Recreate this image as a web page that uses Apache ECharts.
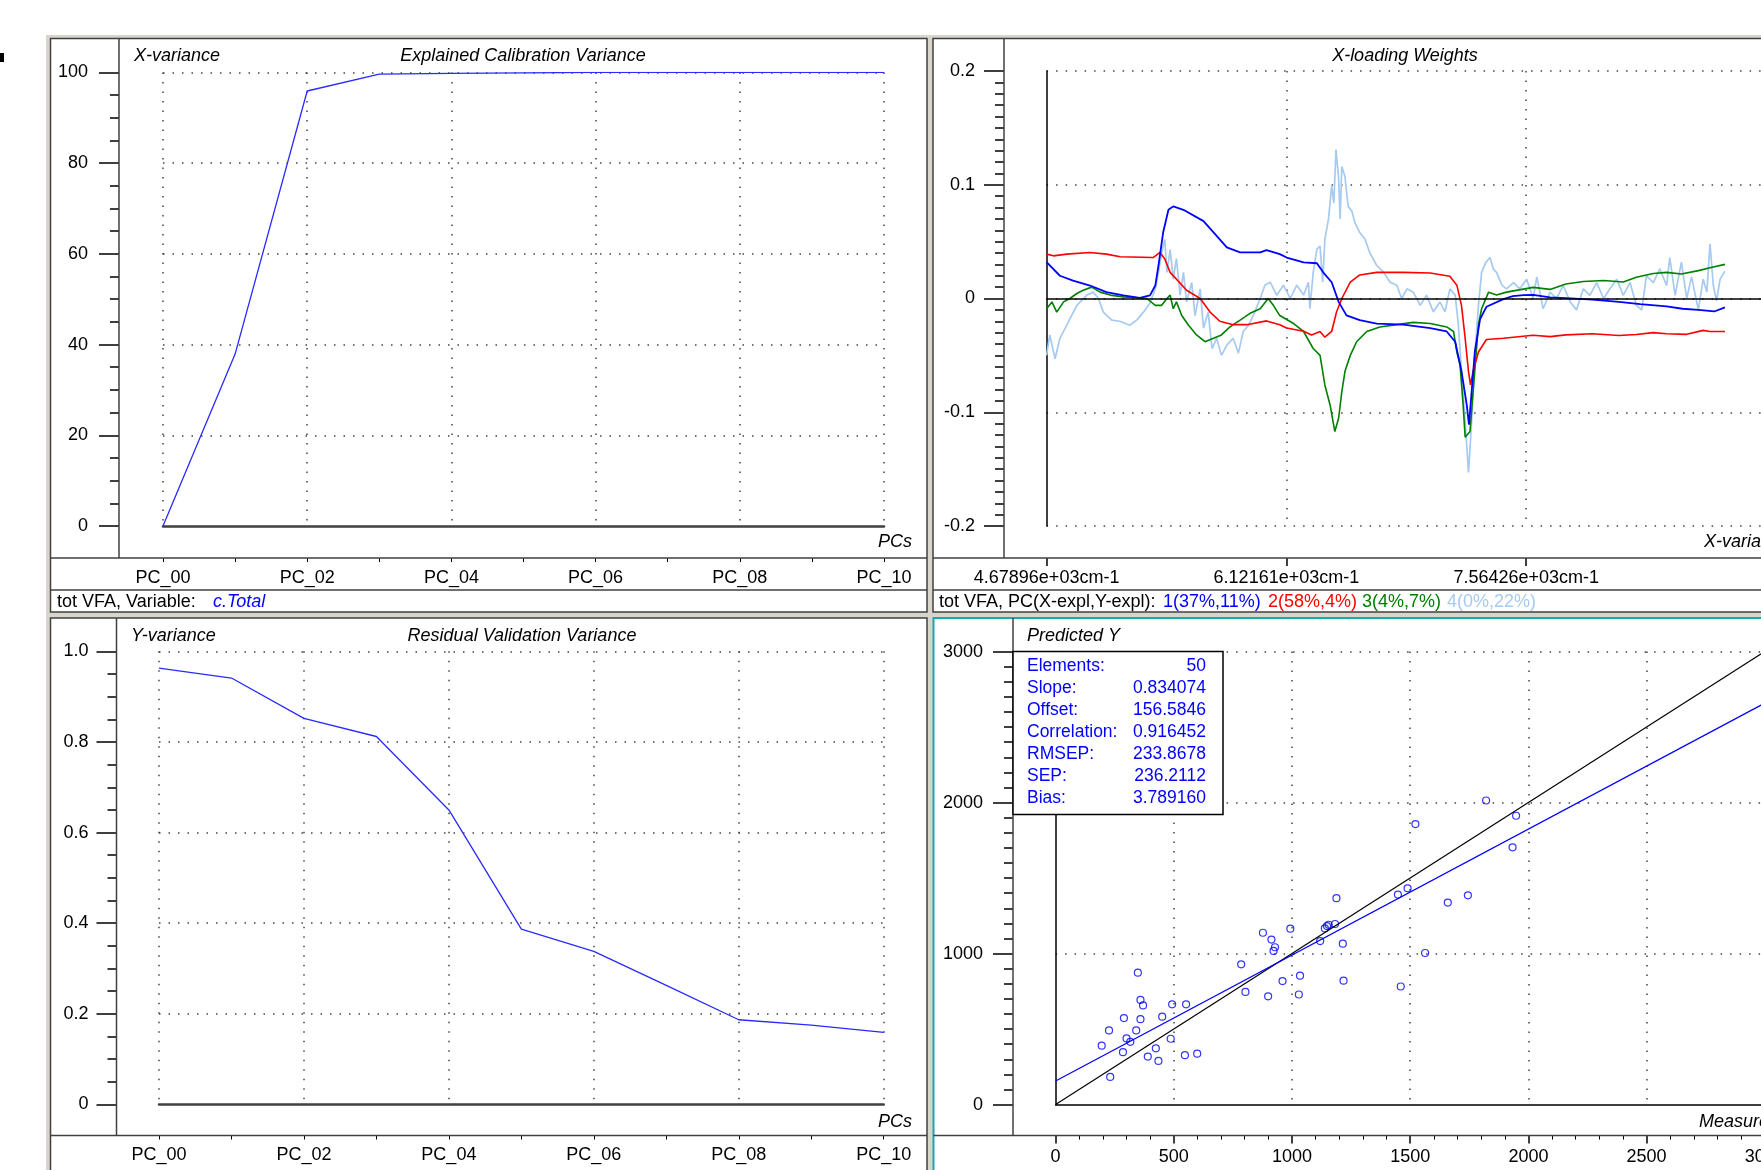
<!DOCTYPE html>
<html>
<head>
<meta charset="utf-8">
<script src="https://cdn.jsdelivr.net/npm/echarts@6/dist/echarts.min.js"></script>
<style>
  html, body { margin: 0; padding: 0; background: #ffffff; overflow: hidden; }
  #chart { width: 1900px; height: 1170px; }
</style>
</head>
<body>
<div id="chart"></div>
<script>
// explained calibration variance (X), PC_00..PC_10
const pcs = [0, 1, 2, 3, 4, 5, 6, 7, 8, 9, 10]
const xVariance = [0, 37.9, 95.9, 99.6, 99.8, 99.9, 100, 100, 100, 100, 100]
// residual validation variance (Y)
const yResidual = [0.963, 0.941, 0.852, 0.812, 0.650, 0.387, 0.338, 0.263, 0.187, 0.175, 0.159]

// X-loading weights, wavenumber (cm-1) / weight
const pc1Wn = [4679, 4759, 4838, 4940, 5039, 5141, 5240, 5301, 5333, 5352, 5380, 5412, 5441, 5502, 5623, 5702, 5763, 5843, 5964, 6002, 6082, 6123, 6225, 6305, 6343, 6394, 6436, 6483, 6563, 6665, 6825, 6987, 7086, 7137, 7175, 7207, 7220, 7236, 7255, 7287, 7325, 7427, 7484, 7548, 7606, 7708, 7803, 7963, 8122, 8250, 8409, 8505, 8600, 8696, 8760]
const pc1Val = [0.032, 0.020, 0.0157, 0.0114, 0.0056, 0.0027, 0.0006, 0.0027, 0.0114, 0.029, 0.058, 0.078, 0.081, 0.078, 0.068, 0.055, 0.045, 0.0405, 0.0405, 0.0425, 0.039, 0.036, 0.0317, 0.031, 0.023, 0.0143, -0.003, -0.0148, -0.019, -0.022, -0.023, -0.026, -0.029, -0.038, -0.064, -0.094, -0.111, -0.082, -0.047, -0.018, -0.0073, -0.0006, 0.002, 0.003, 0.0032, 0.001, 0.0003, -0.001, -0.003, -0.005, -0.007, -0.009, -0.010, -0.0114, -0.0078]

const pc2Wn = [4679, 4720, 4800, 4940, 5039, 5122, 5320, 5361, 5390, 5422, 5460, 5521, 5603, 5661, 5721, 5801, 5884, 6002, 6082, 6123, 6225, 6273, 6324, 6353, 6394, 6423, 6455, 6506, 6563, 6665, 6825, 6987, 7105, 7147, 7175, 7197, 7217, 7229, 7245, 7277, 7325, 7427, 7606, 7708, 7803, 7963, 8122, 8227, 8329, 8409, 8530, 8629, 8670, 8760]
const pc2Val = [0.039, 0.0375, 0.039, 0.0405, 0.039, 0.0367, 0.036, 0.0405, 0.0347, 0.023, 0.017, 0.0073, 0, -0.0117, -0.020, -0.023, -0.023, -0.0197, -0.023, -0.026, -0.0288, -0.032, -0.029, -0.034, -0.029, -0.0119, 0, 0.0143, 0.0207, 0.023, 0.023, 0.0224, 0.0195, 0.0117, -0.006, -0.035, -0.064, -0.076, -0.064, -0.047, -0.036, -0.035, -0.0323, -0.0335, -0.032, -0.031, -0.0325, -0.0317, -0.030, -0.031, -0.0315, -0.028, -0.029, -0.029]

const pc3Wn = [4679, 4711, 4740, 4781, 4819, 4861, 4899, 4950, 5001, 5062, 5141, 5221, 5282, 5333, 5371, 5403, 5422, 5441, 5460, 5492, 5533, 5581, 5632, 5683, 5731, 5782, 5843, 5903, 5964, 6012, 6043, 6082, 6165, 6225, 6283, 6324, 6353, 6385, 6413, 6436, 6455, 6474, 6506, 6544, 6605, 6684, 6786, 6885, 6987, 7086, 7127, 7147, 7166, 7185, 7197, 7226, 7245, 7277, 7296, 7338, 7386, 7446, 7606, 7708, 7803, 7908, 8030, 8148, 8227, 8329, 8409, 8498, 8600, 8670, 8760]
const pc3Val = [-0.009, -0.003, -0.012, -0.003, 0, 0.0044, 0.0073, 0.010, 0.0056, 0.003, 0.0014, 0.0006, 0, -0.006, -0.006, 0, 0.003, -0.009, -0.003, -0.015, -0.0235, -0.032, -0.038, -0.035, -0.032, -0.025, -0.019, -0.013, -0.009, 0, -0.006, -0.015, -0.022, -0.029, -0.044, -0.050, -0.076, -0.094, -0.117, -0.105, -0.082, -0.064, -0.050, -0.038, -0.029, -0.025, -0.023, -0.021, -0.022, -0.025, -0.029, -0.047, -0.058, -0.094, -0.122, -0.117, -0.082, -0.023, -0.009, 0.0056, 0.003, 0.0056, 0.0098, 0.008, 0.0128, 0.015, 0.0158, 0.0145, 0.0187, 0.022, 0.023, 0.0215, 0.0245, 0.027, 0.030]

const pc4Wn = [4679, 4698, 4730, 4759, 4791, 4819, 4861, 4921, 4959, 4991, 5020, 5071, 5119, 5179, 5221, 5262, 5301, 5333, 5352, 5371, 5390, 5403, 5422, 5441, 5460, 5482, 5502, 5521, 5552, 5572, 5603, 5623, 5651, 5674, 5702, 5731, 5763, 5801, 5833, 5862, 5894, 5922, 5964, 5992, 6024, 6063, 6104, 6145, 6184, 6225, 6254, 6263, 6283, 6305, 6324, 6340, 6353, 6375, 6394, 6407, 6420, 6436, 6445, 6455, 6474, 6493, 6515, 6534, 6563, 6595, 6624, 6665, 6707, 6745, 6786, 6815, 6847, 6885, 6927, 6965, 7006, 7045, 7076, 7105, 7137, 7156, 7175, 7197, 7217, 7236, 7255, 7277, 7296, 7322, 7347, 7366, 7386, 7418, 7446, 7488, 7526, 7567, 7606, 7628, 7666, 7708, 7746, 7787, 7829, 7867, 7908, 7947, 7988, 8030, 8068, 8109, 8148, 8189, 8227, 8259, 8288, 8329, 8368, 8409, 8428, 8460, 8498, 8530, 8559, 8600, 8629, 8651, 8670, 8690, 8709, 8731, 8760]
const pc4Val = [-0.050, -0.032, -0.053, -0.035, -0.026, -0.018, -0.006, 0.003, 0.0056, 0, -0.012, -0.019, -0.020, -0.0235, -0.019, -0.012, -0.004, 0.0085, 0.023, 0.040, 0.052, 0.023, 0.043, 0.017, 0.035, 0.003, 0.023, -0.003, 0.014, -0.015, 0.0085, -0.026, -0.012, -0.044, -0.035, -0.050, -0.041, -0.035, -0.048, -0.029, -0.0235, -0.015, 0, 0.0117, 0.0143, 0.0029, 0.0117, 0, 0.0117, 0.003, 0.0143, -0.009, 0.023, 0.0435, 0.046, 0.0143, 0.052, 0.070, 0.099, 0.084, 0.131, 0.105, 0.070, 0.116, 0.107, 0.081, 0.077, 0.0667, 0.058, 0.052, 0.040, 0.029, 0.023, 0.0143, 0.0117, 0, 0.0085, 0.0056, -0.006, 0.003, -0.0117, -0.003, -0.0117, 0.0085, 0.003, -0.023, -0.064, -0.108, -0.153, -0.108, -0.050, -0.006, 0.023, 0.032, 0.036, 0.026, 0.023, 0.0117, 0.0085, 0.014, 0.0085, 0.017, 0, 0.019, -0.009, 0.0056, 0, 0.0114, -0.003, -0.010, 0.0085, 0.0027, 0.014, 0, 0.0085, 0.017, 0.0027, 0.014, -0.006, -0.010, 0.020, 0.014, 0.026, 0.0114, 0.036, 0.0027, 0.032, 0, 0.019, -0.010, 0.017, 0.0056, 0.048, 0.0114, -0.002, 0.017, 0.024]

// predicted vs measured
const measuredPredicted = [
  [1821, 2014], [1948, 1913], [1522, 1858], [1933, 1704], [1188, 1367], [1448, 1391], [1489, 1432], [1659, 1338], [1744, 1386], [877, 1138],
  [993, 1165], [913, 1093], [928, 1042], [922, 1018], [1148, 1182], [1155, 1191], [1182, 1196], [1139, 1167], [1119, 1083], [1215, 1066],
  [1563, 1004], [785, 929], [1034, 854], [960, 818], [1218, 821], [1460, 782], [803, 746], [899, 717], [1029, 729], [348, 874],
  [359, 693], [370, 657], [493, 664], [552, 664], [289, 573], [359, 566], [451, 582], [226, 491], [341, 491], [300, 438],
  [316, 416], [195, 390], [487, 436], [285, 347], [424, 373], [390, 318], [435, 289], [547, 327], [599, 337], [231, 183]
]
const regressionLine = [[0, 156.6], [3000, 2658.8]]
const targetLine = [[0, 0], [3000, 3000]]
const statsLabels = ['Elements:', 'Slope:', 'Offset:', 'Correlation:', 'RMSEP:', 'SEP:', 'Bias:']
const statsValues = ['50', '0.834074', '156.5846', '0.916452', '233.8678', '236.2112', '3.789160']

const pcLegend = ['1(37%,11%)', '2(58%,4%)', '3(4%,7%)', '4(0%,22%)']
const pcColors = ['#0000ff', '#ff0000', '#008000', '#a6caf0']

const FONT = '"Liberation Sans", Arial, sans-serif'
const dotted = { show: true, lineStyle: { color: '#444', type: [1.5, 8], width: 1.5 } }
const labelStyle = { color: '#000', fontSize: 18, fontFamily: FONT }
const noLine = { show: false, onZero: false }

function zip(xs, ys) {
  return xs.map((x, i) => [x, ys[i]])
}

function pcLabel(v) {
  return v % 2 === 0 ? 'PC_' + String(v).padStart(2, '0') : ''
}

function txt(x, y, text, opts = {}) {
  return {
    type: 'text', x, y, z: opts.z || 20, silent: true,
    style: {
      text,
      font: (opts.italic ? 'italic ' : '') + (opts.size || 18) + 'px ' + FONT,
      fill: opts.color || '#000',
      textAlign: opts.align || 'left',
      textVerticalAlign: 'middle'
    }
  }
}

function hline(x1, x2, y, color = '#404040') {
  return { type: 'line', z: 1, silent: true, shape: { x1, y1: y, x2, y2: y }, style: { stroke: color, lineWidth: 1.5 } }
}

function vline(x, y1, y2, color = '#404040') {
  return { type: 'line', z: 1, silent: true, shape: { x1: x, y1, x2: x, y2 }, style: { stroke: color, lineWidth: 1.5 } }
}

function panel(x, y, w, h, stroke = '#404040', lw = 1.5) {
  return { type: 'rect', z: -10, silent: true, shape: { x, y, width: w, height: h }, style: { fill: '#fff', stroke, lineWidth: lw } }
}

const graphics = [
  { type: 'rect', z: -20, silent: true, shape: { x: 46, y: 35, width: 1900, height: 1200 }, style: { fill: '#d8d5cd' } },
  { type: 'rect', z: -5, silent: true, shape: { x: 0, y: 53, width: 4, height: 9 }, style: { fill: '#000' } },
  panel(50.5, 38.5, 876.5, 573.5),
  panel(933, 38.5, 960, 573.5),
  panel(50.5, 618, 876.5, 560),
  panel(933.5, 618, 960, 560, '#1aa8b0', 2),
  // separators
  vline(119, 38.5, 558), hline(50.5, 927, 558), hline(50.5, 927, 590),
  vline(1004, 38.5, 558), hline(933, 1893, 558), hline(933, 1893, 590),
  vline(116.5, 618, 1135.5), hline(50.5, 927, 1135.5),
  vline(1013, 618, 1135.5), hline(933.5, 1893, 1135.5),
  // titles
  txt(134, 56, 'X-variance', { italic: true }),
  txt(523, 56, 'Explained Calibration Variance', { italic: true, align: 'center' }),
  txt(912, 542, 'PCs', { italic: true, align: 'right' }),
  txt(1405, 56, 'X-loading Weights', { italic: true, align: 'center' }),
  txt(1704, 542, 'X-variables', { italic: true }),
  txt(131, 636, 'Y-variance', { italic: true }),
  txt(522, 636, 'Residual Validation Variance', { italic: true, align: 'center' }),
  txt(912, 1122, 'PCs', { italic: true, align: 'right' }),
  txt(1027, 636, 'Predicted Y', { italic: true }),
  txt(1699, 1122, 'Measured Y', { italic: true }),
  // footers
  txt(57, 602, 'tot VFA, Variable:'),
  txt(213, 602, 'c.Total', { italic: true, color: '#0000ff' }),
  txt(939, 602, 'tot VFA, PC(X-expl,Y-expl):')
]
const legendX = [1163, 1268, 1362, 1447]
pcLegend.forEach((t, i) => graphics.push(txt(legendX[i], 602, t, { color: pcColors[i] })))

// statistics box (drawn above the axes of the lower-right plot)
const boxX = 1013
const boxY = 651.6
graphics.push({ type: 'rect', z: 100, silent: true, shape: { x: boxX, y: boxY, width: 210, height: 163 },
  style: { fill: '#fff', stroke: '#000', lineWidth: 1.5 } })
statsLabels.forEach((t, i) => {
  graphics.push(txt(boxX + 14, boxY + 15 + i * 21.9, t, { color: '#0000ff', size: 17.5, z: 101 }))
  graphics.push(txt(boxX + 193, boxY + 15 + i * 21.9, statsValues[i], { color: '#0000ff', size: 17.5, z: 101, align: 'right' }))
})

const chart = echarts.init(document.getElementById('chart'))

const yTick = { show: true, length: 20, lineStyle: { color: '#000', width: 1.5 } }
const yMinor = (n) => ({ show: true, splitNumber: n, length: 9, lineStyle: { color: '#000', width: 1.5 } })
const lineOnly = (color, width) => ({ show: true, onZero: false, lineStyle: { color, width } })
const bare = { axisTick: { show: false }, axisLabel: { show: false } }

chart.setOption({
  animation: false,
  grid: [
    { left: 163, top: 72.4, width: 721, height: 453.6 },
    { left: 1046.6, top: 71, width: 719.4, height: 455 },
    { left: 159, top: 651.3, width: 724.7, height: 453.2 },
    { left: 1055.6, top: 651.6, width: 709.2, height: 453 }
  ],
  xAxis: [
    // top-left: tick/label axis on the separator, plus bottom zero line
    { gridIndex: 0, type: 'value', position: 'bottom', min: 0, max: 10, interval: 1, offset: 32, axisLine: noLine,
      axisTick: { length: 4, lineStyle: { color: '#000' } }, splitLine: { show: false },
      axisLabel: { ...labelStyle, margin: 11, formatter: pcLabel } },
    { gridIndex: 0, type: 'value', position: 'bottom', min: 0, max: 10, interval: 2, axisLine: lineOnly('#404040', 2.5),
      ...bare, splitLine: dotted },
    // top-right
    { gridIndex: 1, type: 'value', position: 'bottom', min: 4678.96, max: 9006.91, interval: 1442.65, offset: 32, axisLine: noLine,
      axisTick: { length: 8, lineStyle: { color: '#000', width: 1.5 } },
      splitLine: { ...dotted, showMinLine: false },
      axisLabel: { ...labelStyle, margin: 11, showMaxLabel: false, formatter: (v) => (v / 1000).toFixed(5) + 'e+03cm-1' } },
    // bottom-left
    { gridIndex: 2, type: 'value', position: 'bottom', min: 0, max: 10, interval: 1, offset: 31, axisLine: noLine,
      axisTick: { length: 4, lineStyle: { color: '#000' } }, splitLine: { show: false },
      axisLabel: { ...labelStyle, margin: 11, formatter: pcLabel } },
    { gridIndex: 2, type: 'value', position: 'bottom', min: 0, max: 10, interval: 2, axisLine: lineOnly('#404040', 2.5),
      ...bare, splitLine: dotted },
    // bottom-right
    { gridIndex: 3, type: 'value', position: 'bottom', min: 0, max: 3000, interval: 500, offset: 31, axisLine: noLine,
      axisTick: { length: 8, lineStyle: { color: '#000', width: 1.5 } },
      minorTick: { show: true, splitNumber: 5, length: 4, lineStyle: { color: '#000' } },
      splitLine: { ...dotted, showMinLine: false },
      axisLabel: { ...labelStyle, margin: 12, formatter: (v) => String(v) } },
    { gridIndex: 3, type: 'value', position: 'bottom', min: 0, max: 3000, axisLine: lineOnly('#000', 1.5),
      ...bare, splitLine: { show: false } }
  ],
  yAxis: [
    { gridIndex: 0, type: 'value', position: 'left', min: 0, max: 100, interval: 20, offset: 44, axisLine: noLine,
      axisTick: yTick, minorTick: yMinor(4), splitLine: { ...dotted, showMinLine: false },
      axisLabel: { ...labelStyle, margin: 31 } },
    { gridIndex: 1, type: 'value', position: 'left', min: -0.2, max: 0.2, interval: 0.1, offset: 42.6, axisLine: noLine,
      axisTick: yTick, minorTick: yMinor(10), splitLine: dotted,
      axisLabel: { ...labelStyle, margin: 29, formatter: (v) => (Math.abs(v) < 1e-9 ? '0' : String(Math.round(v * 10) / 10)) } },
    { gridIndex: 1, type: 'value', position: 'left', offset: 0, min: -0.2, max: 0.2, axisLine: lineOnly('#000', 1.5),
      ...bare, splitLine: { show: false } },
    { gridIndex: 2, type: 'value', position: 'left', min: 0, max: 1, interval: 0.2, offset: 42.5, axisLine: noLine,
      axisTick: yTick, minorTick: yMinor(4), splitLine: { ...dotted, showMinLine: false },
      axisLabel: { ...labelStyle, margin: 28, formatter: (v) => (v === 0 ? '0' : v.toFixed(1)) } },
    { gridIndex: 3, type: 'value', position: 'left', min: 0, max: 3000, interval: 1000, offset: 42.6, axisLine: noLine,
      axisTick: yTick, minorTick: yMinor(10), splitLine: { ...dotted, showMinLine: false },
      axisLabel: { ...labelStyle, margin: 30, formatter: (v) => String(v) } },
    { gridIndex: 3, type: 'value', position: 'left', offset: 0, min: 0, max: 3000, axisLine: lineOnly('#000', 1.5),
      ...bare, splitLine: { show: false } }
  ],
  series: [
    { name: 'X-variance', type: 'line', xAxisIndex: 0, yAxisIndex: 0, data: zip(pcs, xVariance),
      showSymbol: false, lineStyle: { color: '#2a2aff', width: 1.3 } },
    { name: 'PC4', type: 'line', xAxisIndex: 2, yAxisIndex: 1, data: zip(pc4Wn, pc4Val),
      showSymbol: false, lineStyle: { color: pcColors[3], width: 1.7 } },
    { name: 'PC3', type: 'line', xAxisIndex: 2, yAxisIndex: 1, data: zip(pc3Wn, pc3Val),
      showSymbol: false, lineStyle: { color: pcColors[2], width: 1.6 } },
    { name: 'PC2', type: 'line', xAxisIndex: 2, yAxisIndex: 1, data: zip(pc2Wn, pc2Val),
      showSymbol: false, lineStyle: { color: pcColors[1], width: 1.6 } },
    { name: 'PC1', type: 'line', xAxisIndex: 2, yAxisIndex: 1, data: zip(pc1Wn, pc1Val),
      showSymbol: false, lineStyle: { color: pcColors[0], width: 1.8 },
      markLine: { silent: true, symbol: 'none', label: { show: false },
        lineStyle: { color: '#000', type: 'solid', width: 1.5 }, data: [{ yAxis: 0 }] } },
    { name: 'Y-variance', type: 'line', xAxisIndex: 3, yAxisIndex: 3, data: zip(pcs, yResidual),
      showSymbol: false, lineStyle: { color: '#2a2aff', width: 1.3 } },
    { name: 'Target', type: 'line', xAxisIndex: 5, yAxisIndex: 4, data: targetLine,
      showSymbol: false, lineStyle: { color: '#000', width: 1.2 } },
    { name: 'Regression', type: 'line', xAxisIndex: 5, yAxisIndex: 4, data: regressionLine,
      showSymbol: false, lineStyle: { color: '#0000ff', width: 1.2 } },
    { name: 'Samples', type: 'scatter', xAxisIndex: 5, yAxisIndex: 4, data: measuredPredicted,
      symbol: 'circle', symbolSize: 7, itemStyle: { color: 'rgba(0,0,0,0)', borderColor: '#0000ff', borderWidth: 1.2 } }
  ],
  graphic: graphics
})
</script>
</body>
</html>
